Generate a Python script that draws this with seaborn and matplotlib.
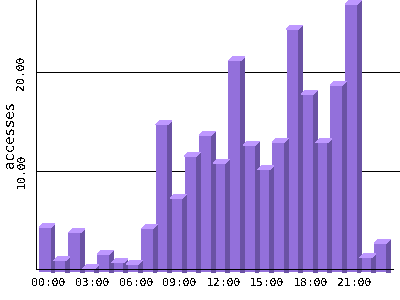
import numpy as np
import pandas as pd
import seaborn as sns
import matplotlib
matplotlib.use("Agg")
import matplotlib.pyplot as plt
from matplotlib.patches import Polygon
from matplotlib.transforms import ScaledTranslation

hours = ["00:00", "01:00", "02:00", "03:00", "04:00", "05:00", "06:00", "07:00",
         "08:00", "09:00", "10:00", "11:00", "12:00", "13:00", "14:00", "15:00",
         "16:00", "17:00", "18:00", "19:00", "20:00", "21:00", "22:00", "23:00"]
accesses = [4.6, 1.2, 4.0, 0.4, 1.8, 1.0, 0.8, 4.4, 15.0, 7.5, 11.8, 13.9,
            11.1, 21.5, 12.9, 10.4, 13.2, 24.7, 18.1, 13.2, 19.0, 27.2, 1.5, 2.9]
tick_labels = ["00:00", "03:00", "06:00", "09:00", "12:00", "15:00", "18:00", "21:00"]
y_ticks = [10, 20]

FRONT = "#9370DB"
SIDE = "#6A52A4"
TOP = "#BE98FF"

sns.set_theme(style="white")
plt.rcParams["font.family"] = ["DejaVu Sans Mono", "DejaVu Sans"]
plt.rcParams["text.antialiased"] = False
plt.rcParams["patch.antialiased"] = False
plt.rcParams["lines.antialiased"] = False

df = pd.DataFrame({"hour": hours, "accesses": accesses})

fig = plt.figure(figsize=(4, 3), dpi=100)
W, H = 400, 300
left_px, bottom_px = 35.7, 269.3
ax = fig.add_axes([left_px / W, 1 - bottom_px / H, (W - left_px) / W, bottom_px / H])

sns.barplot(data=df, x="hour", y="accesses", order=hours, color=FRONT,
            saturation=1, width=0.82, linewidth=0, ax=ax, zorder=2)

ax.set_xlim(-0.64, 24.36)
ax.set_ylim(0, 27.35)

# pixel -> data units
p0 = ax.transData.transform((0, 0))
p1 = ax.transData.transform((1, 1))
px_x = p1[0] - p0[0]
px_y = p1[1] - p0[1]
dx = 4.0 / px_x
dy = 4.0 / px_y

trans_front = ax.transData + ScaledTranslation(0, -3.0 / 100, fig.dpi_scale_trans)

for p in list(ax.patches):
    x0 = p.get_x()
    w = p.get_width()
    h = p.get_height()
    x1 = x0 + w
    p.set_transform(trans_front)
    p.set_clip_on(False)
    side = Polygon([(x1, 0), (x1 + dx, 0), (x1 + dx, h + dy), (x1, h)],
                   closed=True, facecolor=SIDE, edgecolor="none", lw=0,
                   transform=trans_front, clip_on=False, zorder=2)
    top = Polygon([(x0, h), (x0 + dx, h + dy), (x1 + dx, h + dy), (x1, h)],
                  closed=True, facecolor=TOP, edgecolor="none", lw=0,
                  transform=trans_front, clip_on=False, zorder=2)
    ax.add_patch(side)
    ax.add_patch(top)

# grid
ax.set_axisbelow(True)
ax.yaxis.grid(True, color="black", linewidth=0.72)
ax.xaxis.grid(False)

# ticks
tick_pos = [hours.index(t) for t in tick_labels]
ax.set_xticks(tick_pos)
ax.set_xticklabels(tick_labels)
ax.set_yticks(y_ticks)
ax.set_yticklabels([f"{v:.2f}" for v in y_ticks], rotation=90, va="center")
ax.tick_params(axis="x", length=0, pad=6.5, labelsize=8.2, colors="black")
ax.tick_params(axis="y", length=0, pad=6.5, labelsize=8.2, colors="black")
for lab in ax.get_xticklabels():
    lab.set_transform(lab.get_transform() + ScaledTranslation(3.5 / 100, 0, fig.dpi_scale_trans))

ax.set_xlabel("")
ax.set_ylabel("accesses", fontsize=10, color="black", va="center")
ax.yaxis.set_label_coords((10 - left_px) / (W - left_px), 0.5)

for s in ["top", "right"]:
    ax.spines[s].set_visible(False)
for s in ["left", "bottom"]:
    ax.spines[s].set_color("black")
    ax.spines[s].set_linewidth(0.72)
ax.spines["bottom"].set_bounds(-0.64, 23.9)

fig.savefig("out.png", dpi=100)
